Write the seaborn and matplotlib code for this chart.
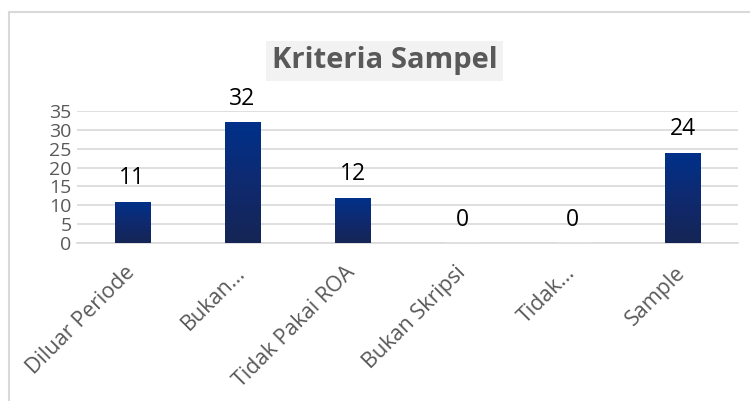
import matplotlib.pyplot as plt
import matplotlib.transforms as mtransforms
import seaborn as sns
import numpy as np
import pandas as pd
from matplotlib.colors import LinearSegmentedColormap
from matplotlib.patches import Rectangle

categories = ["Diluar Periode", "Bukan...", "Tidak Pakai ROA", "Bukan Skripsi", "Tidak...", "Sample"]
values = [11, 32, 12, 0, 0, 24]
yticks = [0, 5, 10, 15, 20, 25, 30, 35]

df = pd.DataFrame({"kriteria": categories, "jumlah": values})

sns.set_style("white")
plt.rcParams['font.family'] = ['Open Sans', 'DejaVu Sans']

fig = plt.figure(figsize=(7.5, 4.01), dpi=100)
ax = fig.add_axes([0.103, 0.394, 0.881, 0.329])

sns.barplot(data=df, x="kriteria", y="jumlah", color="#0b2a6e", width=0.32, ax=ax, zorder=3)

# gradient fill for the bars (light navy top, dark navy bottom)
grad = LinearSegmentedColormap.from_list("navy", ["#152555", "#0f2a70", "#00318a"])
for bar in ax.patches:
    x0, y0 = bar.get_x(), bar.get_y()
    w, h = bar.get_width(), bar.get_height()
    if h <= 0:
        continue
    bar.set_facecolor("none")
    bar.set_edgecolor("none")
    img = ax.imshow(np.linspace(0, 1, 100).reshape(-1, 1), cmap=grad, origin="lower",
                    extent=[x0, x0 + w, y0, y0 + h], aspect="auto", zorder=3)
    img.set_clip_path(bar)

ax.set_xlim(-0.5, len(categories) - 0.5)
ax.set_ylim(0, 35)
ax.set_yticks(yticks)
ax.set_yticklabels([str(t) for t in yticks], fontsize=14, color="#595959")
ax.set_xticks(range(len(categories)))
ax.set_xticklabels(categories, rotation=45, ha="right", rotation_mode="anchor",
                   fontsize=15.5, color="#595959")
ax.tick_params(axis="y", length=0, pad=4)
ax.tick_params(axis="x", length=0, pad=14)
# nudge rotated labels a bit left so they end under the bar centre
shift = mtransforms.ScaledTranslation(-8 / 100, 0, fig.dpi_scale_trans)
for lbl in ax.get_xticklabels():
    lbl.set_transform(lbl.get_transform() + shift)
ax.set_xlabel("")
ax.set_ylabel("")
ax.grid(axis="y", color="#d9d9d9", linewidth=1.2, zorder=0)
ax.set_axisbelow(True)
for s in ["top", "right", "left"]:
    ax.spines[s].set_visible(False)
ax.spines["bottom"].set_color("#d9d9d9")
ax.spines["bottom"].set_linewidth(1.2)

for i, v in enumerate(values):
    ax.text(i, v + 3.0, str(v), ha="center", va="bottom", fontsize=16.5, color="black")

fig.text(0.513, 0.848, "Kriteria Sampel", ha="center", va="center", fontsize=21,
         fontweight="bold", color="#595959",
         bbox=dict(boxstyle="square,pad=0.2", facecolor="#f2f2f2", edgecolor="none"))

# chart frame
fig.patches.append(Rectangle((0.012, -0.05), 1.1, 1.02, transform=fig.transFigure,
                             fill=False, edgecolor="#d9d9d9", linewidth=1.5))

fig.savefig("out.png", dpi=100)
